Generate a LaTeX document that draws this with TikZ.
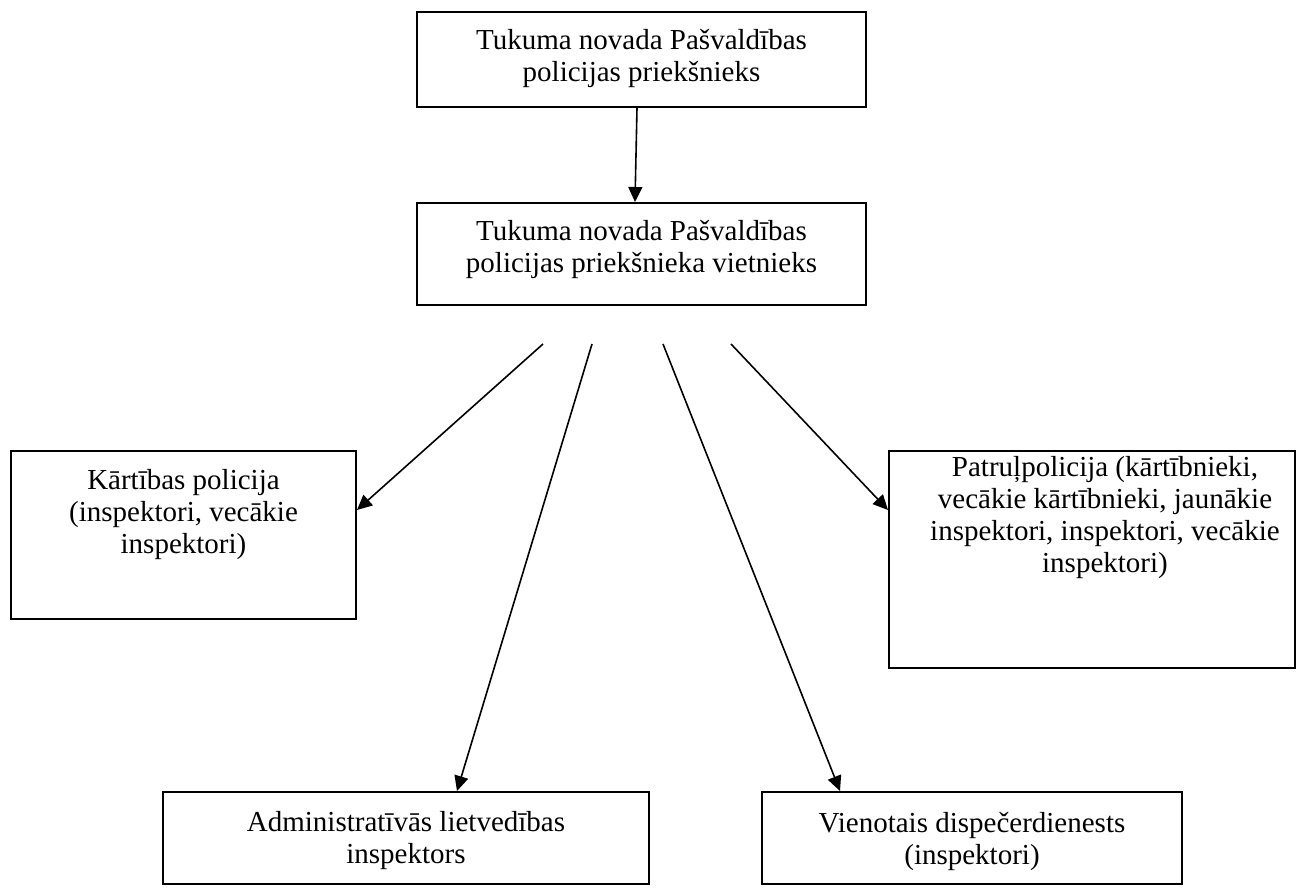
\documentclass[tikz,border=0pt]{standalone}
\usepackage{fontspec}
\setmainfont{Liberation Serif}
\usetikzlibrary{arrows.meta}
\begin{document}
\begin{tikzpicture}[x=0.5pt,y=-0.5pt,
  box/.style={draw,line width=1pt,rectangle,inner sep=0pt},
  lbl/.style={align=center,anchor=north,inner sep=0pt,font=\fontsize{14.5pt}{16pt}\selectfont},
  conn/.style={line width=0.8pt,-{Triangle[length=7.5pt,width=7pt]}}]
\useasboundingbox (0,0) rectangle (1297,888);
% boxes
\node[box,minimum width=224.5pt,minimum height=47.5pt] (chief) at (641.5,59.5) {};
\node[box,minimum width=224.5pt,minimum height=51pt] (deputy) at (641.5,254) {};
\node[box,minimum width=172.5pt,minimum height=84pt] (kp) at (183.5,535) {};
\node[box,minimum width=203pt,minimum height=108.5pt] (pp) at (1092,559.5) {};
\node[box,minimum width=243pt,minimum height=46pt] (al) at (406,838) {};
\node[box,minimum width=210pt,minimum height=46pt] (vd) at (972,838) {};
% texts
\node[lbl] (chiefT) at (641.5,29) {Tukuma novada Pašvaldības\\policijas priekšnieks};
\node[lbl] (deputyT) at (641.5,220) {Tukuma novada Pašvaldības\\policijas priekšnieka vietnieks};
\node[lbl] (kpT) at (183.5,469) {Kārtības policija\\(inspektori, vecākie\\inspektori)};
\node[lbl] (ppT) at (1105,456) {Patruļpolicija (kārtībnieki,\\vecākie kārtībnieki, jaunākie\\inspektori, inspektori, vecākie\\inspektori)};
\node[lbl] (alT) at (406,811) {Administratīvās lietvedības\\inspektors};
\node[lbl] (vdT) at (972,812) {Vienotais dispečerdienests\\(inspektori)};
% free starts
\coordinate (s1) at (543,344);
\coordinate (s2) at (592,344);
\coordinate (s3) at (663,344);
\coordinate (s4) at (731,344);
% connectors
\draw[conn] ([xshift=-2.25pt]chief.south) -- ([xshift=-3.25pt]deputy.north);
\draw[conn] (s1) -- ([yshift=-30pt]kp.north east);
\draw[conn] (s2) -- ([xshift=25.5pt]al.north);
\draw[conn] (s3) -- ([xshift=-66pt]vd.north);
\draw[conn] (s4) -- ([yshift=-30pt]pp.north west);
\end{tikzpicture}
\end{document}
